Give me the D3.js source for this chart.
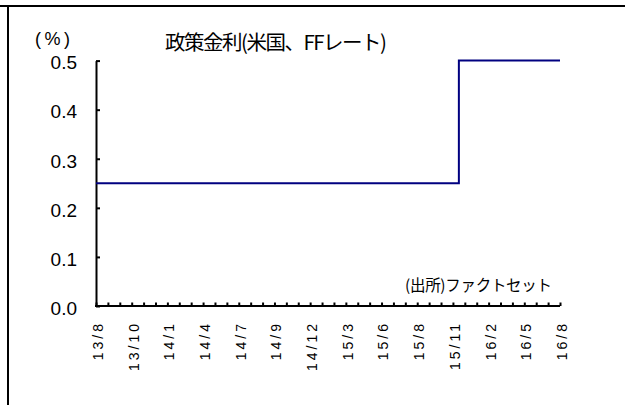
<!DOCTYPE html>
<html><head><meta charset="utf-8">
<script src="https://cdn.jsdelivr.net/npm/d3@7"></script>
<style>body{margin:0;background:#fff}</style>
</head><body><svg id="c" width="625" height="405"></svg>
<script>
// ---- data ----
const tickLabels = ["13/8","13/10","14/1","14/4","14/7","14/9","14/12","15/3","15/6","15/8","15/11","16/2","16/5","16/8"];
const weeksPerLabel = 12;   // weekly data, one label every 12 weeks
const weeksPerMinor = 4;    // minor tick every 4 weeks
const stepWeeks = [0, 122, 156];      // week index where rate changes
const stepRates = [0.25, 0.5, 0.5];   // FF rate (%)
const yTicks = [0.0, 0.1, 0.2, 0.3, 0.4, 0.5];
const titleText = "政策金利(米国、FFレート)";
const unitText = "(%)";
const sourceText = "(出所)ファクトセット";

const svg = d3.select("#c");
const nWeeks = (tickLabels.length - 1) * weeksPerLabel;
const x = d3.scaleLinear().domain([0, nWeeks]).range([96, 560]);
const y = d3.scaleLinear().domain([0, 0.5]).range([306, 60.6]);

// frame
svg.append("line").attr("x1",0).attr("x2",625).attr("y1",6).attr("y2",6).attr("stroke","#000").attr("stroke-width",2);
svg.append("line").attr("x1",8).attr("x2",8).attr("y1",5).attr("y2",405).attr("stroke","#000").attr("stroke-width",2);

// axes
const yAxis = d3.axisLeft(y).tickValues(yTicks).tickSizeInner(-4).tickSizeOuter(0).tickFormat("");
const gy = svg.append("g").attr("transform","translate(96,0)").call(yAxis);
const minorTicks = d3.range(0, nWeeks + 1, weeksPerMinor);
const xAxis = d3.axisBottom(x).tickValues(minorTicks).tickSizeInner(-3.5).tickSizeOuter(0).tickFormat("");
const gx = svg.append("g").attr("transform","translate(0,306)").call(xAxis);
[gx, gy].forEach(g => {
  g.select(".domain").attr("stroke","#000").attr("stroke-width",2);
  g.selectAll(".tick line").attr("stroke","#000").attr("stroke-width",2);
});
gx.select(".domain").attr("d", `M95,0H560`);

// y labels
svg.append("g").selectAll("text").data(yTicks).join("text")
  .attr("x", 77).attr("y", d => y(d) + 8.8)
  .attr("text-anchor","end")
  .attr("font-family","'Liberation Sans', Arial, sans-serif")
  .attr("font-size", 19).attr("fill","#000")
  .text(d => d.toFixed(1));

// x labels
const lsX = 3;
svg.append("g").selectAll("text").data(tickLabels).join("text")
  .attr("transform", (d,i) => `translate(${x(i*weeksPerLabel)+2},${318+lsX}) rotate(-90)`)
  .attr("text-anchor","end").attr("dy","0.35em")
  .attr("font-family","'Liberation Sans', Arial, sans-serif")
  .attr("font-size", 14).attr("letter-spacing", lsX).attr("fill","#000")
  .text(d => d);

// series
const pts = stepWeeks.map((w,i) => [w, stepRates[i]]);
svg.append("path").datum(pts)
  .attr("d", d3.line().x(d => x(d[0])).y(d => y(d[1])).curve(d3.curveStepAfter))
  .attr("fill","none").attr("stroke","#000080").attr("stroke-width",2);

// texts
svg.append("text").attr("x",165).attr("y",50)
  .attr("font-family","'Noto Sans CJK JP', sans-serif").attr("font-size",20.5)
  .attr("textLength",222).attr("lengthAdjust","spacing").attr("fill","#000")
  .text(titleText);
svg.append("text").attr("x",35).attr("y",44.5)
  .attr("font-family","'Liberation Sans', Arial, sans-serif").attr("font-size",18)
  .attr("textLength",35).attr("lengthAdjust","spacing").attr("fill","#000")
  .text(unitText);
svg.append("text").attr("x",405).attr("y",290.5)
  .attr("font-family","'Noto Sans CJK JP', sans-serif").attr("font-size",15.5)
  .attr("textLength",147).attr("lengthAdjust","spacing").attr("fill","#000")
  .text(sourceText);
</script></body></html>
